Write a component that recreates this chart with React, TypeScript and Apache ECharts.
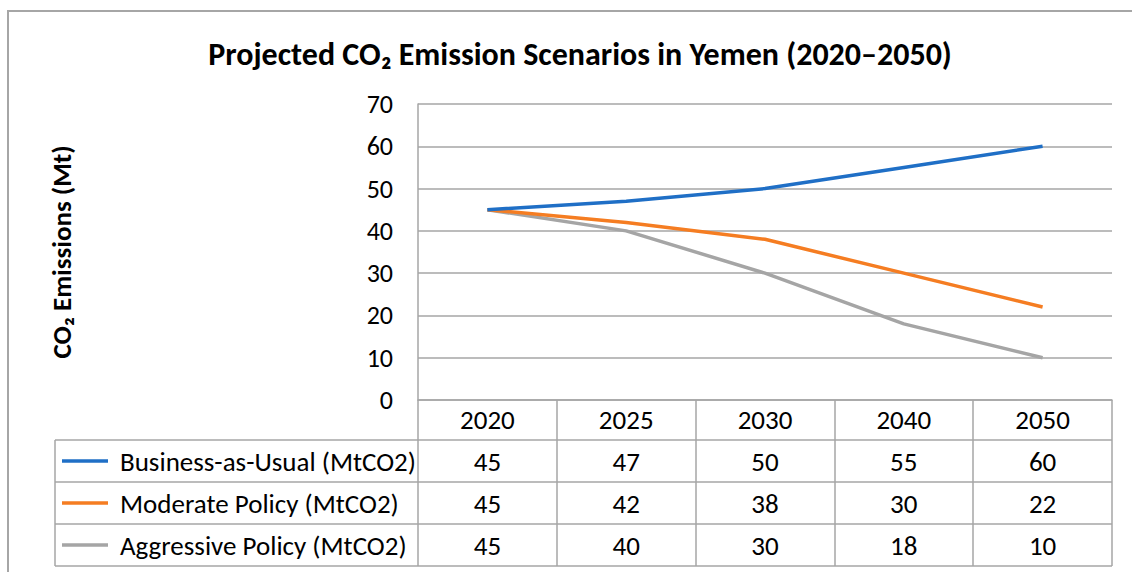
import React, { useEffect, useRef } from "react";
import * as echarts from "echarts";

const categories = ["2020", "2025", "2030", "2040", "2050"];
const businessAsUsual = [45, 47, 50, 55, 60];
const moderatePolicy = [45, 42, 38, 30, 22];
const aggressivePolicy = [45, 40, 30, 18, 10];
const seriesNames = [
  "Business-as-Usual (MtCO2)",
  "Moderate Policy (MtCO2)",
  "Aggressive Policy (MtCO2)",
];
const seriesValues = [businessAsUsual, moderatePolicy, aggressivePolicy];
const seriesColors = ["#1f6fc6", "#f57d22", "#a5a5a5"];
const yMin = 0;
const yMax = 70;
const yInterval = 10;
const titleText = "Projected CO\u2082 Emission Scenarios in Yemen (2020\u20132050)";
const yAxisTitle = "CO\u2082 Emissions (Mt)";

const W = 1132;
const H = 572;
const FONT = "Carlito, 'Liberation Sans', Arial, sans-serif";
const GRID = { left: 418, right: 20, top: 104, bottom: 172 };
const HEADER_H = 40;
const ROW_H = 42;
const LEGEND_LEFT = 55;
const LINE_COLOR = "#a6a6a6";
const FS = 26;
const FS_TABLE = 27;

export default function App() {
  const ref = useRef<HTMLDivElement>(null);
  useEffect(() => {
    if (!ref.current) return;
    const chart = echarts.init(ref.current, undefined, { renderer: "svg" });
    const option: any = {
      animation: false,
      backgroundColor: "#ffffff",
      title: {
        text: titleText,
        left: 575,
        top: 33,
        textAlign: "center",
        textStyle: { fontFamily: FONT, fontSize: 32, fontWeight: "bold", color: "#000" },
      },
      grid: { ...GRID },
      xAxis: {
        type: "category",
        data: categories,
        boundaryGap: true,
        axisLine: { show: true, lineStyle: { color: LINE_COLOR, width: 1.5 } },
        axisTick: {
          show: true,
          interval: 0,
          alignWithLabel: false,
          length: HEADER_H + ROW_H * 3,
          lineStyle: { color: LINE_COLOR, width: 1.5 },
        },
        axisLabel: {
          interval: 0,
          margin: 6,
          fontFamily: FONT,
          fontSize: FS_TABLE,
          color: "#000",
        },
      },
      yAxis: {
        type: "value",
        min: yMin,
        max: yMax,
        interval: yInterval,
        name: yAxisTitle,
        nameLocation: "middle",
        nameGap: 343,
        nameRotate: 90,
        nameTextStyle: { fontFamily: FONT, fontSize: 27, fontWeight: "bold", color: "#000" },
        axisLine: { show: true, lineStyle: { color: LINE_COLOR, width: 1.5 } },
        axisTick: { show: false },
        splitLine: { show: true, lineStyle: { color: LINE_COLOR, width: 1.5 } },
        axisLabel: { margin: 25, fontFamily: FONT, fontSize: FS, color: "#000" },
      },
      series: seriesNames.map((name, i) => ({
        name,
        type: "line",
        data: seriesValues[i],
        symbol: "none",
        lineStyle: { color: seriesColors[i], width: 3.5 },
        itemStyle: { color: seriesColors[i] },
        z: 10 - i,
      })),
    };
    chart.setOption(option);

    const axisBottom = H - GRID.bottom;
    const tableRight = W - GRID.right;
    const graphics: any[] = [
      {
        type: "rect",
        shape: { x: 8, y: 11, width: W + 20, height: H + 20 },
        style: { fill: "none", stroke: LINE_COLOR, lineWidth: 2 },
        silent: true,
      },
    ];
    for (let r = 0; r <= 3; r++) {
      const y = axisBottom + HEADER_H + r * ROW_H;
      graphics.push({
        type: "line",
        shape: { x1: LEGEND_LEFT, y1: y, x2: tableRight, y2: y },
        style: { stroke: LINE_COLOR, lineWidth: 1.5 },
        silent: true,
      });
    }
    graphics.push({
      type: "line",
      shape: {
        x1: LEGEND_LEFT,
        y1: axisBottom + HEADER_H,
        x2: LEGEND_LEFT,
        y2: axisBottom + HEADER_H + ROW_H * 3,
      },
      style: { stroke: LINE_COLOR, lineWidth: 1.5 },
      silent: true,
    });
    seriesNames.forEach((name, i) => {
      const cy = axisBottom + HEADER_H + i * ROW_H + ROW_H / 2;
      graphics.push({
        type: "line",
        shape: { x1: 62, y1: cy, x2: 108, y2: cy },
        style: { stroke: seriesColors[i], lineWidth: 3.5 },
        silent: true,
      });
      graphics.push({
        type: "text",
        x: 120,
        y: cy,
        style: {
          text: name,
          fontFamily: FONT,
          fontSize: FS_TABLE,
          fill: "#000",
          textAlign: "left",
          textVerticalAlign: "middle",
        },
        silent: true,
      });
      seriesValues[i].forEach((v, j) => {
        const px = chart.convertToPixel({ xAxisIndex: 0 }, j) as number;
        graphics.push({
          type: "text",
          x: px,
          y: cy,
          style: {
            text: String(v),
            fontFamily: FONT,
            fontSize: FS_TABLE,
            fill: "#000",
            textAlign: "center",
            textVerticalAlign: "middle",
          },
          silent: true,
        });
      });
    });
    chart.setOption({ graphic: graphics });
    return () => chart.dispose();
  }, []);
  return (
    <div
      ref={ref}
      style={{ position: "fixed", left: 0, top: 0, width: W, height: H }}
    />
  );
}
